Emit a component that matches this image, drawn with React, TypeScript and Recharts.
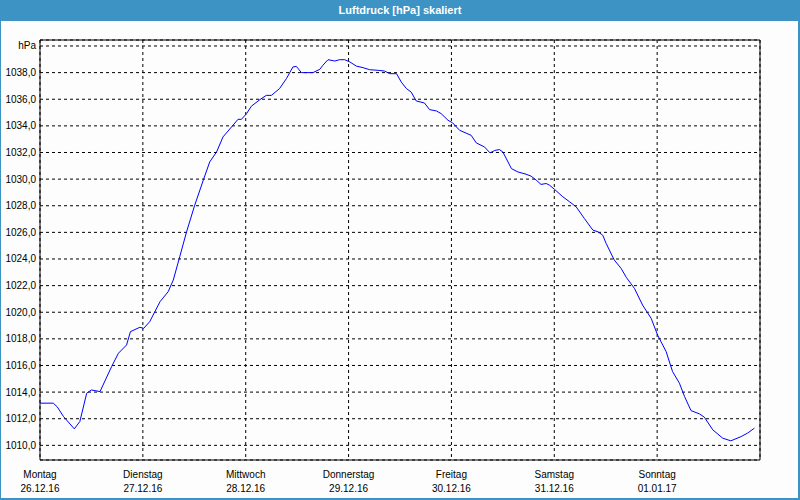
import { LineChart, Line, XAxis, YAxis, CartesianGrid, ReferenceArea } from "recharts"

const dayNames = ["Montag", "Dienstag", "Mittwoch", "Donnerstag", "Freitag", "Samstag", "Sonntag"]
const dayDates = ["26.12.16", "27.12.16", "28.12.16", "29.12.16", "30.12.16", "31.12.16", "01.01.17"]
const yTicks = [1010, 1012, 1014, 1016, 1018, 1020, 1022, 1024, 1026, 1028, 1030, 1032, 1034, 1036, 1038, 1040]

// hours since Monday 00:00
const hours = [
  0, 3.1, 4.0, 5.5, 8.0, 9.3, 10.9, 12.0, 14.0, 16.7, 18.3, 20.2, 21.1, 23.3, 24.2, 25.6, 28.0, 29.9, 31.1, 32.6,
  34.2, 36.1, 38.1, 39.6, 41.2, 42.7, 44.7, 46.2, 47.0, 48.2, 49.3, 51.3, 52.8, 54.0, 55.9, 57.5, 59.0, 59.8, 61.0,
  63.7, 65.3, 66.0, 67.2, 68.8, 69.9, 71.1, 72.3, 73.8, 75.4, 76.9, 78.9, 80.4, 81.6, 83.2, 84.3, 85.5, 86.6, 87.8,
  89.7, 90.9, 92.5, 93.6, 95.2, 96.3, 97.9, 100.6, 101.8, 103.7, 105.0, 106.1, 107.2, 108.0, 110.0, 111.5, 113.4,
  114.6, 115.8, 116.9, 118.1, 118.9, 120.1, 122.0, 123.6, 125.1, 127.0, 129.0, 130.2, 131.3, 132.1, 134.0, 135.6,
  136.8, 138.7, 140.6, 142.6, 144.1, 146.1, 147.6, 149.2, 150.4, 151.9, 153.9, 155.0, 157.0, 159.3, 161.2, 163.6,
  165.1, 166.7,
]

const pressure = [
  1013.17, 1013.17, 1012.9, 1012.16, 1011.24, 1011.79, 1013.92, 1014.16, 1014.04, 1015.91, 1016.92, 1017.54, 1018.54,
  1018.87, 1018.79, 1019.29, 1020.79, 1021.54, 1022.42, 1024.16, 1026.04, 1028.04, 1029.92, 1031.29, 1032.04, 1033.17,
  1033.92, 1034.49, 1034.49, 1034.92, 1035.47, 1035.97, 1036.29, 1036.29, 1036.8, 1037.55, 1038.42, 1038.47, 1038.0,
  1038.0, 1038.25, 1038.55, 1038.97, 1038.87, 1038.97, 1038.97, 1038.8, 1038.49, 1038.37, 1038.22, 1038.17, 1038.12,
  1037.92, 1037.92, 1037.29, 1036.8, 1036.54, 1035.87, 1035.72, 1035.22, 1035.12, 1034.92, 1034.42, 1034.22, 1033.67,
  1033.29, 1032.72, 1032.42, 1031.97, 1032.15, 1032.22, 1032.04, 1030.79, 1030.54, 1030.37, 1030.22, 1029.92, 1029.6,
  1029.67, 1029.54, 1029.22, 1028.67, 1028.29, 1027.92, 1027.05, 1026.17, 1026.04, 1025.79, 1025.17, 1023.92, 1023.29,
  1022.62, 1021.79, 1020.54, 1019.54, 1018.29, 1017.04, 1015.54, 1014.67, 1013.66, 1012.61, 1012.36, 1012.12, 1011.16,
  1010.54, 1010.34, 1010.66, 1010.92, 1011.29,
]

const data = hours.map((h, i) => ({ day: h / 24, hpa: pressure[i] }))

const Y_MIN = 1008.9
const Y_MAX = 1040.45
const FONT = "'Liberation Sans', Arial, sans-serif"

function DayTick(props: any) {
  const { x, y, payload } = props
  const i = payload.value
  if (i > 6) return null
  return (
    <g transform={`translate(${x},${y})`}>
      <text x={0} y={18} textAnchor="middle" fontSize={10} fontFamily={FONT} fill="#000">
        {dayNames[i]}
      </text>
      <text x={0} y={32} textAnchor="middle" fontSize={10} fontFamily={FONT} fill="#000">
        {dayDates[i]}
      </text>
    </g>
  )
}

function PressureTick(props: any) {
  const { x, y, payload } = props
  const v = payload.value
  const label = v === 1040 ? "hPa" : v.toFixed(1).replace(".", ",")
  return (
    <text x={x} y={y} dy="0.35em" textAnchor="end" fontSize={10} fontFamily={FONT} fill="#000">
      {label}
    </text>
  )
}

export default function App() {
  return (
    <div style={{ position: "fixed", left: 0, top: 0, width: 800, height: 500, background: "#fcfdfc" }}>
      <div style={{ position: "absolute", left: 0, top: 0 }}>
        <LineChart width={800} height={500} data={data} margin={{ top: 40, right: 40, bottom: 0, left: 0 }}>
          <CartesianGrid stroke="#000" strokeDasharray="3 3" />
          <XAxis
            dataKey="day"
            type="number"
            domain={[0, 7]}
            ticks={[0, 1, 2, 3, 4, 5, 6]}
            interval={0}
            height={40}
            axisLine={false}
            tickLine={false}
            tickSize={0}
            tickMargin={0}
            tick={<DayTick />}
          />
          <YAxis
            type="number"
            domain={[Y_MIN, Y_MAX]}
            allowDataOverflow
            ticks={yTicks}
            interval={0}
            width={40}
            axisLine={false}
            tickLine={false}
            tickSize={0}
            tickMargin={4}
            tick={<PressureTick />}
          />
          <ReferenceArea x1={0} x2={7} y1={Y_MIN} y2={Y_MAX} fill="none" stroke="#000" strokeWidth={1} />
          <Line type="linear" dataKey="hpa" stroke="#0000ff" strokeWidth={1} dot={false} isAnimationActive={false} />
        </LineChart>
      </div>
      <div
        style={{
          position: "absolute",
          left: 0,
          top: 0,
          width: 800,
          height: 21,
          background: "#3d93c4",
          color: "#fff",
          fontFamily: FONT,
          fontWeight: "bold",
          fontSize: 11,
          lineHeight: "21px",
          textAlign: "center",
        }}
      >
        Luftdruck [hPa] skaliert
      </div>
      <div
        style={{
          position: "absolute",
          left: 0,
          top: 0,
          width: 800,
          height: 500,
          boxSizing: "border-box",
          borderLeft: "1px solid #3d93c4",
          borderRight: "2px solid #3d93c4",
          borderBottom: "2px solid #3d93c4",
          pointerEvents: "none",
        }}
      />
    </div>
  )
}
